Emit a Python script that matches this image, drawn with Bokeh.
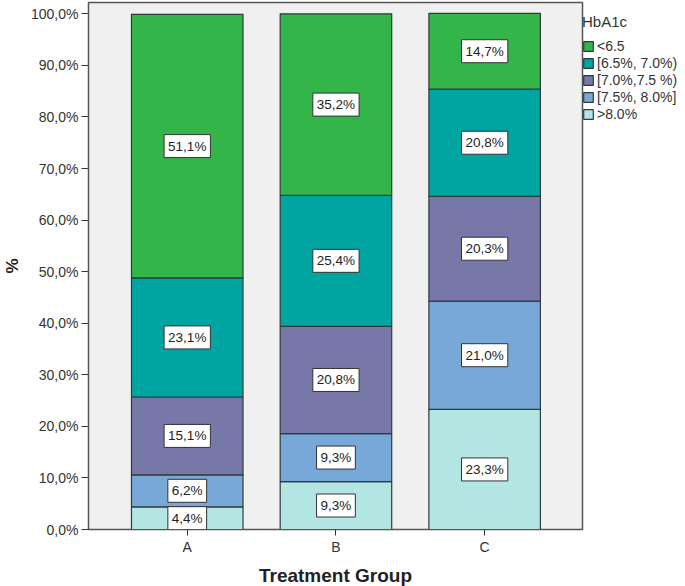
from bokeh.plotting import figure
from bokeh.models import (Range1d, FixedTicker, Legend, LegendItem,
                          ColumnDataSource)
from bokeh.core.properties import value
from bokeh.embed import file_html
from bokeh.resources import INLINE

groups = ["A", "B", "C"]
categories = ["<6.5", "[6.5%, 7.0%)", "[7.0%,7.5 %)", "[7.5%, 8.0%]", ">8.0%"]
# values from bottom (>8.0%) to top (<6.5), per group A, B, C
gt80 = [4.4, 9.3, 23.3]
r75_80 = [6.2, 9.3, 21.0]
r70_75 = [15.1, 20.8, 20.3]
r65_70 = [23.1, 25.4, 20.8]
lt65 = [51.1, 35.2, 14.7]
y_ticks = [0, 10, 20, 30, 40, 50, 60, 70, 80, 90, 100]
y_tick_labels = ["0,0%", "10,0%", "20,0%", "30,0%", "40,0%", "50,0%",
                 "60,0%", "70,0%", "80,0%", "90,0%", "100,0%"]

stack_series = [gt80, r75_80, r70_75, r65_70, lt65]
stack_names = [">8.0%", "[7.5%, 8.0%]", "[7.0%,7.5 %)", "[6.5%, 7.0%)", "<6.5"]
colors = ["#b3e5e3", "#78a8d8", "#7878a8", "#00a5a2", "#33b54a"]

xs = list(range(1, len(groups) + 1))

FW, FH = 494, 527
p = figure(frame_width=FW, frame_height=FH, output_backend="svg",
           toolbar_location=None,
           x_range=Range1d(0.336, 3.658), y_range=Range1d(0, 102.2),
           min_border_left=88, min_border_top=2, min_border_right=0,
           min_border_bottom=0)
p.background_fill_color = "#f0f0f0"
p.border_fill_color = "white"
p.outline_line_color = "#555555"
p.outline_line_width = 1.5
p.xgrid.visible = False
p.ygrid.visible = False

renderers = {}
bottoms = [0.0] * len(groups)
lab_x, lab_y, lab_t = [], [], []
for vals, name, col in zip(stack_series, stack_names, colors):
    tops = [b + v for b, v in zip(bottoms, vals)]
    src = ColumnDataSource(dict(x=xs, top=tops, bottom=bottoms))
    r = p.vbar(x="x", top="top", bottom="bottom", width=0.75, source=src,
               fill_color=col, line_color="#2f3a3a", line_width=1.2)
    renderers[name] = r
    for xi, b, v in zip(xs, bottoms, vals):
        lab_x.append(xi)
        lab_y.append(b + v / 2)
        lab_t.append(f"{v:.1f}".replace(".", ",") + "%")
    bottoms = tops

lsrc = ColumnDataSource(dict(x=lab_x, y=lab_y, t=lab_t))
p.text(x="x", y="y", text="t", source=lsrc, text_align="center",
       text_baseline="middle", text_font=value("Liberation Sans"),
       text_font_size="13.5px", text_color="#222222",
       background_fill_color="white", border_line_color="#333333",
       border_line_width=1, padding=4)

# axes
p.yaxis.ticker = FixedTicker(ticks=y_ticks)
p.yaxis.major_label_overrides = {t: l for t, l in zip(y_ticks, y_tick_labels)}
p.yaxis.minor_tick_line_color = None
p.yaxis.major_tick_out = 7
p.yaxis.major_tick_in = 0
p.yaxis.major_label_standoff = 3
p.yaxis.axis_line_color = "#555555"
p.yaxis.major_tick_line_color = "#333333"
p.yaxis.major_label_text_font = "Liberation Sans"
p.yaxis.major_label_text_font_size = "14px"
p.yaxis.major_label_text_color = "#333333"
p.yaxis.axis_label = "%"
p.yaxis.axis_label_text_font = "Liberation Sans"
p.yaxis.axis_label_text_font_style = "bold"
p.yaxis.axis_label_text_font_size = "17px"
p.yaxis.axis_label_text_color = "#222222"
p.yaxis.axis_label_standoff = 6

p.xaxis.ticker = FixedTicker(ticks=xs)
p.xaxis.major_label_overrides = {x: g for x, g in zip(xs, groups)}
p.xaxis.minor_tick_line_color = None
p.xaxis.major_tick_out = 6
p.xaxis.major_tick_in = 0
p.xaxis.major_label_standoff = 3
p.xaxis.axis_line_color = "#555555"
p.xaxis.major_tick_line_color = "#333333"
p.xaxis.major_label_text_font = "Liberation Sans"
p.xaxis.major_label_text_font_size = "14px"
p.xaxis.major_label_text_color = "#333333"
p.xaxis.axis_label = "Treatment Group"
p.xaxis.axis_label_text_font = "Liberation Sans"
p.xaxis.axis_label_text_font_style = "bold"
p.xaxis.axis_label_text_font_size = "19px"
p.xaxis.axis_label_text_color = "#222222"
p.xaxis.axis_label_standoff = 7

items = [LegendItem(label=c, renderers=[renderers[c]]) for c in categories]
LEG_H = 112
legend = Legend(items=items, title="HbA1c", location=(0, FH - 8 - LEG_H),
                label_text_font="Liberation Sans", label_text_font_size="14px",
                label_text_color="#333333",
                title_text_font="Liberation Sans", title_text_font_size="15px",
                title_text_font_style="normal", title_text_color="#333333",
                title_standoff=8,
                glyph_width=12, glyph_height=12, label_height=14,
                label_standoff=3, spacing=1, padding=3, margin=0,
                border_line_color=None, background_fill_alpha=0)
p.add_layout(legend, "right")

open("out.html", "w").write(file_html(p, INLINE))
